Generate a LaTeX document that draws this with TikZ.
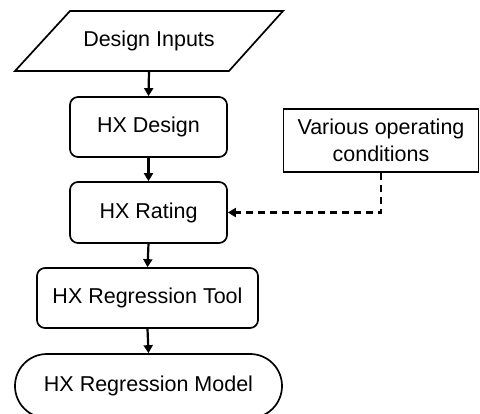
\documentclass[tikz,border=0pt]{standalone}
\usepackage{fontspec}
\setmainfont{Liberation Sans}
\usetikzlibrary{arrows.meta}
\begin{document}
\begin{tikzpicture}[x=1pt,y=-1pt,
  font=\fontsize{21.5}{27}\selectfont,
  box/.style={draw, line width=1.7pt, rounded corners=8pt, minimum height=60pt, inner sep=0pt, align=center},
  plain/.style={draw, line width=1.7pt, inner sep=0pt, align=center},
  flow/.style={line width=2.2pt, -{Triangle[length=8pt,width=9pt]}},
  dflow/.style={line width=2.4pt, dash pattern=on 7pt off 5pt, -{Triangle[length=8pt,width=9pt]}}]
\useasboundingbox (0,0) rectangle (480,413);
% Design Inputs (parallelogram)
\node[minimum width=160pt, minimum height=60pt, inner sep=0pt] (inputs) at (149,41) {Design Inputs};
\draw[line width=1.7pt, line join=miter] (70,11) -- (283,11) -- (229,71) -- (15,71) -- cycle;
\node[box, minimum width=157pt] (design) at (148.5,127) {HX Design};
\node[box, minimum width=157pt, minimum height=61pt] (rating) at (148.5,212.5) {HX Rating};
\node[box, minimum width=221pt] (tool) at (147.5,298) {HX Regression Tool};
\node[box, rounded corners=31.9pt, minimum width=267pt, minimum height=64pt] (model) at (148.5,386) {HX Regression Model};
\node[plain, minimum width=195pt, minimum height=63pt] (cond) at (381,140.5) {Various operating\\conditions};
\draw[flow] (inputs.south) -- (design.north);
\draw[flow] (design.south) -- (rating.north);
\draw[flow] (rating.south) -- (tool.north);
\draw[flow] (tool.south) -- (model.north);
\draw[dflow] (cond.south) |- (rating.east);
\end{tikzpicture}
\end{document}
